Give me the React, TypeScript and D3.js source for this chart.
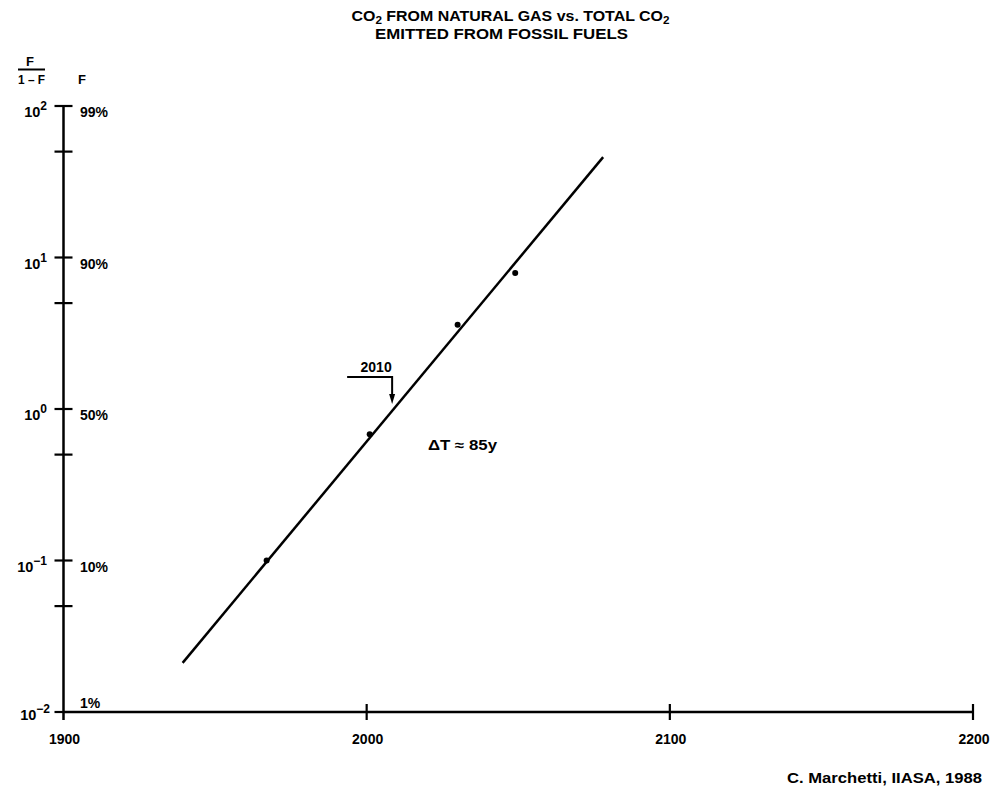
import React from "react";
import * as d3 from "d3";

// Data
const pointYears = [1967, 2001, 2030, 2049];
const pointRatios = [0.1, 0.68, 3.6, 7.9];
const fitYears = [1939.3, 2078];
const fitRatios = [0.0211, 46];
const xTicks = [1900, 2000, 2100, 2200];
const yMajor = [0.01, 0.1, 1, 10, 100];
const yExponents = ["−2", "−1", "0", "1", "2"];
const yPercents = ["1%", "10%", "50%", "90%", "99%"];
const yMinor = [0.05, 0.5, 5, 50];
const arrowYear = 2008.4;
const arrowLabel = "2010";
const deltaLabel = "ΔT ≈ 85y";

const FONT = "'Liberation Sans', Arial, sans-serif";

export default function App() {
  const W = 992, H = 788;
  const x = d3.scaleLinear().domain([1900, 2200]).range([63.5, 973]);
  const y = d3.scaleLog().domain([0.01, 100]).range([712, 106]);
  const line = d3.line<[number, number]>().x(d => x(d[0])).y(d => y(d[1]));
  const fit: [number, number][] = fitYears.map((yr, i) => [yr, fitRatios[i]]);
  const ax = x(arrowYear);
  const ay = y(1);
  const x0 = x(1900);

  return (
    <svg width={W} height={H} style={{ position: "absolute", left: 0, top: 0, background: "#fff" }}
      fontFamily={FONT} fontWeight="bold" fill="#000">
      {/* Title */}
      <text x={351.5} y={21} fontSize={15} textLength={318} lengthAdjust="spacingAndGlyphs">
        CO<tspan fontSize={11} dy={3}>2</tspan><tspan dy={-3}> FROM NATURAL GAS vs. TOTAL CO</tspan><tspan fontSize={11} dy={3}>2</tspan>
      </text>
      <text x={375} y={38.5} fontSize={15} textLength={253} lengthAdjust="spacingAndGlyphs">
        EMITTED FROM FOSSIL FUELS
      </text>

      {/* Y header */}
      <text x={30} y={65.5} fontSize={13} textAnchor="middle">F</text>
      <line x1={18} x2={45} y1={69.5} y2={69.5} stroke="#000" strokeWidth={2} />
      <text x={18} y={84} fontSize={13} textLength={27} lengthAdjust="spacingAndGlyphs">1 – F</text>
      <text x={78} y={84} fontSize={13}>F</text>

      {/* Y axis */}
      <line x1={x0} x2={x0} y1={y(100)} y2={y(0.01) + 8} stroke="#000" strokeWidth={2.5} />
      {yMajor.map((v, i) => (
        <g key={"M" + v}>
          <line x1={x0 - 9} x2={i === 0 ? x0 : x0 + 9} y1={y(v)} y2={y(v)} stroke="#000" strokeWidth={2.2} />
          <text x={i === 0 ? 50 : 47} y={y(v) + (i === 0 ? 8 : 11)} fontSize={14.5} textAnchor="end">
            10<tspan fontSize={12} dy={-7}>{yExponents[i]}</tspan>
          </text>
          <text x={80} y={i === 0 ? y(v) - 4 : y(v) + 11} fontSize={14}>{yPercents[i]}</text>
        </g>
      ))}
      {yMinor.map(v => (
        <line key={"m" + v} x1={x0 - 9} x2={x0 + 9} y1={y(v)} y2={y(v)} stroke="#000" strokeWidth={2.2} />
      ))}

      {/* X axis */}
      <line x1={x0} x2={x(2200)} y1={y(0.01)} y2={y(0.01)} stroke="#000" strokeWidth={2.5} />
      {xTicks.map(t => (
        <g key={"x" + t}>
          {t !== 1900 && <line x1={x(t)} x2={x(t)} y1={y(0.01) - 8} y2={y(0.01) + 8} stroke="#000" strokeWidth={2.2} />}
          <text x={x(t) + 1} y={744} fontSize={14} textAnchor="middle">{t}</text>
        </g>
      ))}

      {/* Fit line */}
      <path d={line(fit) || ""} fill="none" stroke="#000" strokeWidth={2.5} />

      {/* Data points */}
      {pointYears.map((yr, i) => (
        <circle key={"p" + yr} cx={x(yr)} cy={y(pointRatios[i])} r={3} fill="#000" />
      ))}

      {/* 2010 arrow */}
      <text x={ax - 16} y={ay - 37} fontSize={14} textAnchor="middle">{arrowLabel}</text>
      <path d={`M${ax - 45},${ay - 32} H${ax} V${ay - 12}`} fill="none" stroke="#000" strokeWidth={2} />
      <path d={`M${ax - 3},${ay - 15} L${ax + 3},${ay - 15} L${ax},${ay - 5} Z`} fill="#000" />

      {/* Delta T */}
      <text x={428} y={450} fontSize={14} textLength={69} lengthAdjust="spacingAndGlyphs">{deltaLabel}</text>

      {/* Credit */}
      <text x={982} y={783} fontSize={14} textAnchor="end" textLength={195} lengthAdjust="spacingAndGlyphs">
        C. Marchetti, IIASA, 1988
      </text>
    </svg>
  );
}
